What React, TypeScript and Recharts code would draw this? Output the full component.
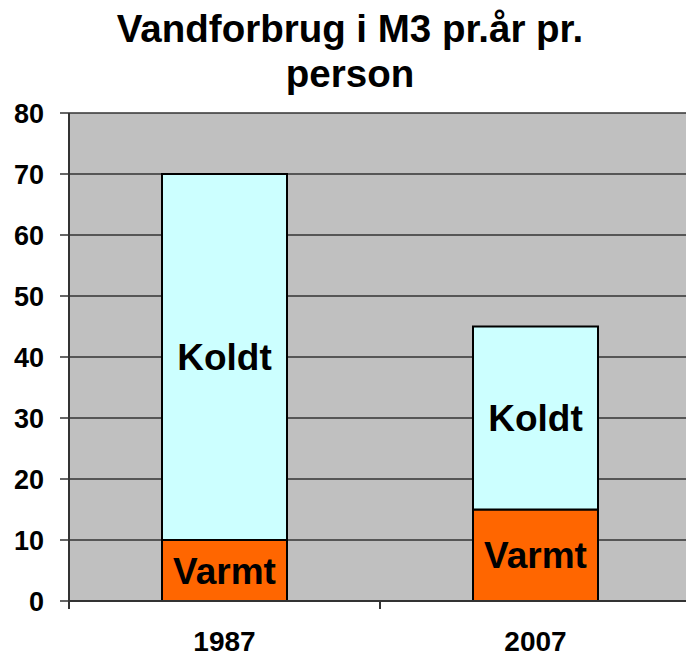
import React from 'react';
import { BarChart, Bar, XAxis, YAxis, CartesianGrid, LabelList } from 'recharts';

const years = ['1987', '2007'];
const varmt = [10, 15];
const koldt = [60, 30];
const yTicks = [0, 10, 20, 30, 40, 50, 60, 70, 80];

const CHART_W = 691;
const CHART_H = 658;
const Y_AXIS_W = 69;
const FONT = '"Liberation Sans", Arial, sans-serif';

const data = years.map((year, i) => ({ year, varmt: varmt[i], koldt: koldt[i] }));

const halfBand = (CHART_W - Y_AXIS_W) / years.length / 2;

function YearTick(props: any) {
  const { x, y, payload } = props;
  return (
    <g>
      <line x1={x - halfBand} x2={x - halfBand} y1={y} y2={y + 8} stroke="#333" strokeWidth={2} />
      <line x1={x + halfBand} x2={x + halfBand} y1={y} y2={y + 8} stroke="#333" strokeWidth={2} />
      <text x={x} y={y} dy={50} textAnchor="middle" fontFamily={FONT} fontWeight="bold" fontSize={28} fill="#000">
        {payload.value}
      </text>
    </g>
  );
}

const labelStyle = { fontFamily: FONT, fontWeight: 'bold', fontSize: 37, fill: '#000' };

export default function App() {
  return (
    <div style={{ position: 'absolute', left: 0, top: 0, width: 686, height: 658, overflow: 'hidden', background: '#fff' }}>
      <div
        style={{
          position: 'absolute', left: 0, top: 6, width: 700, textAlign: 'center',
          fontFamily: FONT, fontWeight: 'bold', fontSize: 38.5, lineHeight: '45px', color: '#000',
        }}
      >
        Vandforbrug i M3 pr.år pr.<br />person
      </div>
      <div style={{ position: 'absolute', left: 0, top: 0 }}>
        <BarChart width={CHART_W} height={CHART_H} data={data} margin={{ top: 113, right: 0, bottom: 0, left: 0 }}>
          <CartesianGrid vertical={false} fill="#C0C0C0" stroke="#333" strokeWidth={1.5} fillOpacity={1} />
          <XAxis
            dataKey="year"
            height={57}
            axisLine={{ stroke: '#333', strokeWidth: 2 }}
            tickLine={false}
            tickSize={0}
            tickMargin={0}
            tick={<YearTick />}
            interval={0}
          />
          <YAxis
            width={Y_AXIS_W}
            domain={[0, 80]}
            ticks={yTicks}
            interval={0}
            axisLine={{ stroke: '#333', strokeWidth: 2 }}
            tickLine={{ stroke: '#333', strokeWidth: 1.5 }}
            tickSize={9}
            tickMargin={16}
            tick={{ fontFamily: FONT, fontWeight: 'bold', fontSize: 27, fill: '#000' }}
          />
          <Bar dataKey="varmt" stackId="a" fill="#FF6600" stroke="#000" strokeWidth={2} barSize={125} isAnimationActive={false}>
            <LabelList dataKey="varmt" position="center" formatter={() => 'Varmt'} style={labelStyle} />
          </Bar>
          <Bar dataKey="koldt" stackId="a" fill="#CCFFFF" stroke="#000" strokeWidth={2} barSize={125} isAnimationActive={false}>
            <LabelList dataKey="koldt" position="center" formatter={() => 'Koldt'} style={labelStyle} />
          </Bar>
        </BarChart>
      </div>
    </div>
  );
}
